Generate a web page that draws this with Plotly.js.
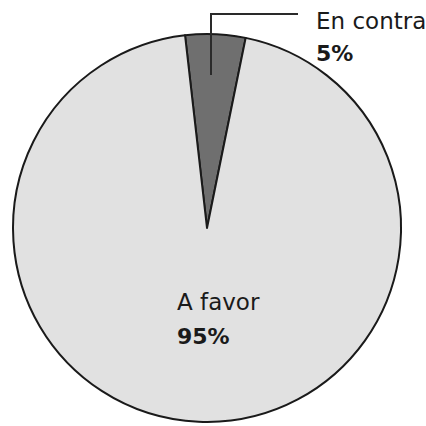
<!DOCTYPE html>
<html>
<head>
<meta charset="utf-8">
<script src="https://cdn.plot.ly/plotly-3.0.1.min.js"></script>
<style>html,body{margin:0;padding:0;background:#fff;}#chart{width:426px;height:426px;}</style>
</head>
<body>
<div id="chart"></div>
<script>
var labels = ["En contra", "A favor"];
var values = [5, 95];
var colors = ["#6f6f6f", "#e1e1e1"];

var W = 426, H = 426;
function px(x) { return x / W; }
function py(y) { return 1 - y / H; }

var total = values.reduce(function (a, b) { return a + b; }, 0);
function pct(i) { return Math.round(values[i] / total * 100) + "%"; }

var font = { family: "DejaVu Sans, sans-serif", size: 23, color: "#1a1a1a" };
var boldFont = { family: "DejaVu Sans, sans-serif", size: 22, color: "#1a1a1a", weight: "bold" };

var data = [{
  type: "pie",
  labels: labels,
  values: values,
  sort: false,
  direction: "clockwise",
  rotation: -6.5,
  textinfo: "none",
  hoverinfo: "none",
  marker: { colors: colors, line: { color: "#1a1a1a", width: 2 } },
  domain: { x: [px(13), px(401)], y: [py(422), py(34)] },
  showlegend: false
}];

var layout = {
  width: W, height: H,
  margin: { l: 0, r: 0, t: 0, b: 0 },
  paper_bgcolor: "#ffffff",
  plot_bgcolor: "#ffffff",
  showlegend: false,
  shapes: [{
    type: "path", xref: "paper", yref: "paper",
    path: "M " + px(211) + " " + py(75) + " L " + px(211) + " " + py(14) + " L " + px(298) + " " + py(14),
    line: { color: "#2a2a2a", width: 2 }
  }],
  annotations: [
    { text: labels[0], x: px(314), y: py(21), xref: "paper", yref: "paper", xanchor: "left", yanchor: "middle", showarrow: false, font: font },
    { text: "<b>" + pct(0) + "</b>", x: px(314), y: py(53), xref: "paper", yref: "paper", xanchor: "left", yanchor: "middle", showarrow: false, font: boldFont },
    { text: labels[1], x: px(175), y: py(302), xref: "paper", yref: "paper", xanchor: "left", yanchor: "middle", showarrow: false, font: font },
    { text: "<b>" + pct(1) + "</b>", x: px(175), y: py(336), xref: "paper", yref: "paper", xanchor: "left", yanchor: "middle", showarrow: false, font: boldFont }
  ]
};

Plotly.newPlot("chart", data, layout, { displayModeBar: false, staticPlot: true });
</script>
</body>
</html>
